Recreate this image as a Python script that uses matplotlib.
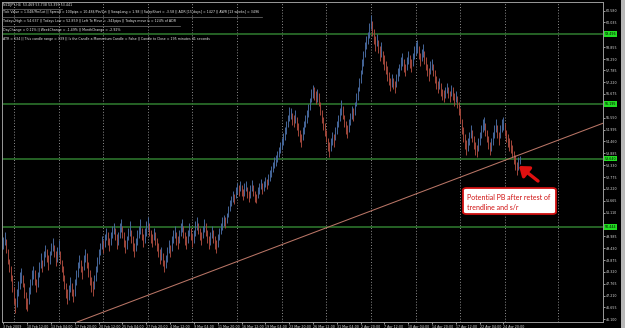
import matplotlib.pyplot as plt
import numpy as np
from matplotlib.patches import FancyBboxPatch, Rectangle

# NZDJPY H4 bars (bar index 0 = leftmost bar)
lows = [
    49.40, 49.60, 49.20, 48.70, 48.30, 47.90, 47.40, 46.80, 46.40, 46.70,
    47.20, 47.50, 47.80, 47.60, 47.10, 46.60, 46.50, 46.80, 47.30, 47.70,
    48.00, 47.70, 47.40, 47.60, 48.10, 48.50, 48.30, 48.60, 49.00, 48.80,
    48.40, 48.70, 49.10, 49.30, 49.00, 48.60, 48.80, 49.10, 48.70, 48.30,
    47.90, 47.50, 47.10, 46.80, 47.00, 47.40, 47.20, 46.90, 47.20, 47.70,
    48.10, 48.50, 48.30, 48.00, 48.40, 48.80, 48.50, 48.10, 47.70, 47.40,
    47.20, 47.50, 47.90, 48.30, 48.70, 49.10, 49.40, 49.20, 49.50, 49.80,
    49.60, 49.30, 49.60, 49.90, 50.10, 49.80, 49.40, 49.60, 49.90, 50.20,
    49.90, 49.50, 49.20, 49.40, 49.80, 50.00, 49.70, 49.30, 49.00, 49.30,
    49.60, 49.90, 50.10, 49.80, 49.50, 49.70, 50.00, 50.30, 50.00, 49.70,
    49.50, 49.80, 49.60, 49.30, 49.00, 48.70, 48.90, 48.60, 48.30, 48.50,
    48.80, 49.20, 49.00, 49.30, 49.70, 49.90, 49.60, 49.40, 49.70, 50.00,
    50.20, 49.90, 49.60, 49.40, 49.70, 50.00, 49.80, 49.50, 49.70, 50.00,
    50.30, 50.10, 49.80, 49.60, 49.90, 50.20, 50.00, 49.70, 49.40, 49.60,
    49.90, 49.70, 49.40, 49.20, 49.50, 49.80, 50.10, 50.30, 50.50, 50.40,
    50.60, 50.90, 51.20, 51.40, 51.60, 51.50, 51.80, 52.00, 51.90, 52.10,
    51.90, 51.70, 51.90, 52.10, 51.80, 51.60, 51.80, 52.10, 51.90, 51.60,
    51.55, 51.80, 52.00, 52.20, 52.00, 52.10, 52.30, 52.20, 52.40, 52.60,
    52.80, 53.00, 53.20, 53.30, 53.50, 53.70, 53.90, 54.10, 54.30, 54.50,
    54.80, 55.10, 55.40, 55.50, 55.20, 55.10, 55.30, 55.00, 54.70, 54.40,
    54.20, 54.50, 54.80, 55.10, 55.30, 55.60, 55.90, 56.30, 56.50, 56.40,
    56.20, 56.30, 56.10, 55.70, 55.30, 55.00, 54.70, 54.40, 54.00, 53.70,
    54.00, 54.30, 54.20, 54.50, 54.80, 55.10, 55.40, 55.70, 55.50, 55.10,
    54.80, 54.60, 54.90, 55.20, 55.50, 55.40, 55.70, 56.10, 56.40, 56.80,
    57.20, 57.60, 58.00, 58.40, 58.80, 59.00, 59.30, 59.70, 59.40, 59.00,
    58.70, 58.90, 58.60, 58.20, 58.40, 58.10, 57.80, 57.60, 57.30, 57.10,
    56.80, 57.00, 56.90, 56.70, 57.00, 57.30, 57.50, 57.80, 58.00, 57.70,
    57.50, 57.80, 58.10, 57.90, 57.70, 58.00, 58.30, 58.50, 58.60, 58.30,
    58.00, 58.20, 58.40, 58.10, 57.80, 57.50, 57.30, 57.60, 57.80, 57.50,
    57.20, 56.90, 56.70, 56.90, 56.60, 56.40, 56.30, 56.50, 56.70, 56.50,
    56.30, 56.60, 56.40, 56.10, 56.30, 56.00, 55.70, 55.30, 54.80, 54.40,
    54.10, 53.80, 54.00, 54.30, 54.60, 54.40, 54.10, 53.80, 53.70, 54.00,
    54.30, 54.60, 54.90, 55.00, 54.70, 54.40, 54.10, 53.80, 54.00, 54.30,
    54.60, 54.90, 54.60, 54.30, 54.60, 54.90, 55.00, 54.70, 54.40, 54.20,
    54.00, 53.90, 53.70, 53.40, 53.10, 52.86, 53.10, 53.40,
]
highs = [
    49.95, 50.20, 49.85, 49.40, 48.95, 48.60, 48.20, 47.60, 47.10, 47.50,
    47.90, 48.30, 48.50, 48.20, 47.80, 47.40, 47.10, 47.60, 48.00, 48.40,
    48.60, 48.40, 48.00, 48.30, 48.80, 49.20, 48.90, 49.30, 49.60, 49.40,
    49.10, 49.30, 49.70, 49.90, 49.60, 49.30, 49.50, 49.80, 49.30, 48.90,
    48.60, 48.20, 47.80, 47.50, 47.70, 48.10, 47.80, 47.50, 48.00, 48.40,
    48.80, 49.10, 48.90, 48.60, 49.10, 49.40, 49.20, 48.80, 48.40, 48.10,
    47.90, 48.20, 48.60, 49.00, 49.40, 49.70, 50.00, 49.80, 50.10, 50.40,
    50.20, 49.90, 50.20, 50.50, 50.60, 50.40, 50.10, 50.20, 50.60, 50.80,
    50.50, 50.20, 49.80, 50.00, 50.40, 50.70, 50.30, 50.00, 49.70, 49.90,
    50.30, 50.50, 50.80, 50.40, 50.10, 50.40, 50.70, 50.90, 50.60, 50.30,
    50.10, 50.40, 50.20, 49.90, 49.70, 49.40, 49.50, 49.20, 48.90, 49.10,
    49.50, 49.80, 49.60, 50.00, 50.30, 50.50, 50.20, 50.00, 50.30, 50.60,
    50.80, 50.50, 50.20, 50.00, 50.30, 50.60, 50.40, 50.10, 50.30, 50.70,
    50.90, 50.60, 50.40, 50.20, 50.50, 50.80, 50.60, 50.30, 50.00, 50.20,
    50.50, 50.30, 50.00, 49.80, 50.10, 50.40, 50.60, 50.90, 51.00, 50.90,
    51.10, 51.40, 51.70, 51.90, 52.10, 52.00, 52.30, 52.50, 52.40, 52.60,
    52.40, 52.20, 52.50, 52.60, 52.30, 52.10, 52.40, 52.65, 52.40, 52.10,
    52.00, 52.30, 52.50, 52.70, 52.50, 52.60, 52.80, 52.70, 52.90, 53.10,
    53.30, 53.50, 53.70, 53.80, 54.00, 54.20, 54.40, 54.60, 54.85, 55.10,
    55.40, 55.70, 56.05, 56.00, 55.80, 55.70, 55.90, 55.60, 55.30, 55.00,
    54.80, 55.10, 55.40, 55.70, 55.90, 56.20, 56.50, 56.90, 57.10, 57.00,
    56.80, 56.90, 56.70, 56.30, 55.90, 55.60, 55.30, 55.00, 54.60, 54.40,
    54.60, 54.90, 54.80, 55.10, 55.40, 55.70, 56.00, 56.40, 56.10, 55.70,
    55.40, 55.20, 55.50, 55.80, 56.10, 56.00, 56.30, 56.70, 57.00, 57.40,
    57.80, 58.30, 58.70, 59.10, 59.40, 59.60, 60.00, 60.40, 60.10, 59.70,
    59.40, 59.50, 59.20, 58.90, 59.10, 58.70, 58.50, 58.20, 58.00, 57.70,
    57.40, 57.60, 57.40, 57.30, 57.60, 57.90, 58.10, 58.40, 58.60, 58.30,
    58.10, 58.40, 58.70, 58.50, 58.30, 58.60, 58.90, 59.10, 59.20, 58.90,
    58.60, 58.80, 59.00, 58.70, 58.40, 58.10, 57.90, 58.20, 58.30, 58.10,
    57.80, 57.50, 57.30, 57.40, 57.20, 56.90, 56.85, 57.00, 57.20, 57.00,
    56.80, 57.10, 57.00, 56.70, 56.80, 56.60, 56.30, 56.00, 55.50, 55.10,
    54.80, 54.50, 54.60, 54.90, 55.20, 55.00, 54.70, 54.40, 54.30, 54.60,
    54.90, 55.20, 55.50, 55.60, 55.30, 55.00, 54.70, 54.40, 54.60, 54.90,
    55.20, 55.50, 55.20, 54.90, 55.20, 55.50, 55.60, 55.30, 55.00, 54.80,
    54.60, 54.50, 54.30, 54.00, 53.80, 53.50, 53.70, 53.74,
]

time_labels = [
    "3 Feb 2009", "10 Feb 12:00", "13 Feb 04:00", "17 Feb 20:00", "20 Feb 12:00",
    "25 Feb 04:00", "27 Feb 20:00", "4 Mar 12:00", "9 Mar 04:00", "11 Mar 20:00",
    "16 Mar 12:00", "19 Mar 04:00", "23 Mar 20:00", "26 Mar 12:00", "31 Mar 04:00",
    "2 Apr 20:00", "7 Apr 12:00", "10 Apr 04:00", "14 Apr 20:00", "17 Apr 12:00",
    "22 Apr 04:00", "24 Apr 20:00",
]
price_labels = [
    "60.580", "60.035", "58.855", "58.290", "57.785", "57.220", "56.675",
    "55.550", "54.995", "54.460", "53.885", "53.330", "52.775", "52.220",
    "51.665", "51.110", "49.985", "49.430", "48.875", "48.320", "47.765",
    "47.210", "46.655", "46.100",
]
# support / resistance lines
sr_levels = ["59.496", "56.195", "53.640", "50.444"]
# trendline anchors (bar index, price)
trend_bars = [49.4, 403.0]
trend_prices = [45.97, 55.30]
week_lines = [7, 37, 67, 97, 127, 157, 187, 217, 247, 277, 307, 337, 373]

info_lines = [
    "NZDJPY,H4  53.469 53.738 53.399 53.441",
    "Tick Value = 1.048/Pin/Lot || Spread = 100pips = 10.48$/Pin/Lot || SwapLong = 1.98 || "
    "SwapShort = -3.58 || ADR [15 days] = 1427 || AWR [13 weeks] = 3496",
    "Todays High = 54.637 || Todays Low = 52.859 || Left To Move = -343pips || Todays move is = 124% of ADR",
    "DayChange = 0.11% || WeekChange = -1.49% || MonthChange = -2.92%",
    "ATR = 634 || This candle range = 339 || Is the Candle a Momentum Candle = False || "
    "Candle to Close = 195 minutes 41 seconds",
]

W, H = 625, 328
fig = plt.figure(figsize=(W / 100, H / 100), dpi=100, facecolor="black")
ax = fig.add_axes([2 / W, 6.3 / H, 601 / W, 319.7 / H], facecolor="black")

idx = np.arange(len(highs))
lo = np.array(lows)
hi = np.array(highs)
mid = (lo + hi) / 2
up = np.r_[True, mid[1:] >= mid[:-1]]
cols = np.where(up, "#46679a", "#a2473a")
ax.vlines(idx, lo, hi, colors=cols, linewidth=0.7)

for b in week_lines:
    ax.axvline(b, color="#a0a0a0", linewidth=0.6, linestyle=(0, (1.2, 2.2)), zorder=0)

for lv in sr_levels:
    ax.axhline(float(lv), color="#2f7d2f", linewidth=1.1, zorder=1)

ax.plot(trend_bars, trend_prices, color="#b97566", linewidth=0.75)

ax.set_xlim(-1, 403)
ax.set_ylim(45.987, 60.988)

ax.yaxis.tick_right()
ax.set_yticks([float(p) for p in price_labels])
ax.set_yticklabels(price_labels)
ax.set_xticks(np.arange(len(time_labels)) * 16)
ax.set_xticklabels(time_labels)
for t in ax.get_xticklabels():
    t.set_ha("left")
ax.tick_params(axis="both", colors="#dddddd", labelsize=2.3, length=1.5, width=0.5, pad=0.8)

for s in ax.spines.values():
    s.set_color("#9a9a9a")
    s.set_linewidth(0.7)

tr = ax.get_yaxis_transform()
for lv in sr_levels:
    ax.text(1.003, float(lv), lv, transform=tr, fontsize=2.3, color="black", va="center",
            ha="left", bbox=dict(fc="#22dd22", ec="none", pad=0.6), clip_on=False)

# info text block
for line, y in zip(info_lines, [5, 12.5, 21, 30, 39]):
    fig.text(3 / W, 1 - y / H, line, fontsize=2.3, color="#e8e8e8", va="center", ha="left")
for y, x1 in [(8.5, 62), (16.8, 262), (25.5, 180)]:
    fig.add_artist(plt.Line2D([2 / W, x1 / W], [1 - y / H, 1 - y / H], color="#777777",
                              linewidth=0.5, transform=fig.transFigure))

# annotation box
box = FancyBboxPatch((463 / W, 1 - 214 / H), 93 / W, 26 / H,
                     boxstyle="round,pad=0,rounding_size=0.006", transform=fig.transFigure,
                     fc="white", ec="#d01010", lw=1.3)
fig.add_artist(box)
fig.text(467 / W, 1 - 197 / H, "Potential PB after retest of", family="Lato", fontsize=5.0,
         color="#d01010", va="center", ha="left")
fig.text(467 / W, 1 - 207 / H, "trendline and s/r", family="Lato", fontsize=5.0,
         color="#d01010", va="center", ha="left")

ax.annotate("", xy=(519, H - 166), xycoords="figure pixels",
            xytext=(538, H - 181), textcoords="figure pixels",
            arrowprops=dict(arrowstyle="-|>,head_length=0.6,head_width=0.45",
                            color="#e01010", lw=2.4, mutation_scale=9, shrinkA=0, shrinkB=0))

fig.add_artist(Rectangle((621 / W, 0), 4 / W, 1, transform=fig.transFigure,
                         fc="#b8b8b8", ec="none"))

fig.savefig("out.png", dpi=100, facecolor="black")
